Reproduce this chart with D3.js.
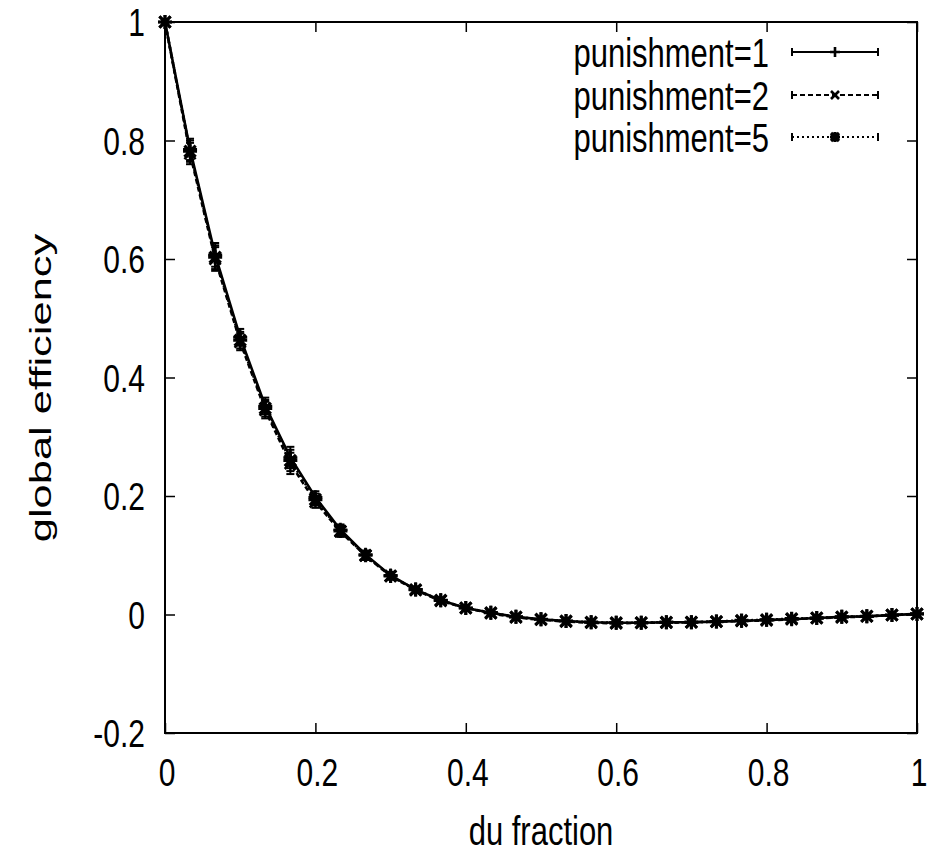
<!DOCTYPE html>
<html><head><meta charset="utf-8">
<script src="https://cdn.jsdelivr.net/npm/d3@7"></script>
<style>html,body{margin:0;padding:0;background:#fff;} text{font-family:"Liberation Sans",Arial,Helvetica,sans-serif;fill:#000;}</style>
</head><body>
<svg id="chart" width="930" height="857"></svg>
<script>
// ---- data ----
const duFraction = [0, 0.0333, 0.0667, 0.1, 0.1333, 0.1667, 0.2, 0.2333, 0.2667, 0.3, 0.3333, 0.3667, 0.4, 0.4333, 0.4667, 0.5, 0.5333, 0.5667, 0.6, 0.6333, 0.6667, 0.7, 0.7333, 0.7667, 0.8, 0.8333, 0.8667, 0.9, 0.9333, 0.9667, 1];
const pun1 = [1.0, 0.785, 0.607, 0.468, 0.352, 0.265, 0.198, 0.143, 0.101, 0.066, 0.042, 0.024, 0.011, 0.003, -0.004, -0.008, -0.011, -0.013, -0.014, -0.014, -0.013, -0.013, -0.012, -0.011, -0.009, -0.008, -0.006, -0.004, -0.003, -0.001, 0.001];
const pun2 = [1.0, 0.778, 0.600, 0.460, 0.345, 0.255, 0.190, 0.140, 0.099, 0.065, 0.041, 0.023, 0.011, 0.002, -0.005, -0.009, -0.012, -0.014, -0.015, -0.014, -0.014, -0.013, -0.012, -0.011, -0.010, -0.008, -0.006, -0.005, -0.003, -0.001, 0.001];
const pun5 = [1.0, 0.782, 0.603, 0.463, 0.348, 0.260, 0.194, 0.141, 0.100, 0.065, 0.042, 0.024, 0.011, 0.003, -0.004, -0.008, -0.011, -0.013, -0.014, -0.014, -0.013, -0.013, -0.012, -0.010, -0.009, -0.007, -0.006, -0.004, -0.003, -0.001, 0.001];
const errBar = [0, 0.018, 0.02, 0.014, 0.014, 0.018, 0.01, 0.009, 0.007, 0.006, 0.005, 0.004, 0.004, 0.003, 0.003, 0.003, 0.003, 0.003, 0.003, 0.003, 0.003, 0.003, 0.003, 0.003, 0.003, 0.003, 0.003, 0.003, 0.003, 0.003, 0.003];
const seriesNames = ["punishment=1", "punishment=2", "punishment=5"];
const xTicks = [0, 0.2, 0.4, 0.6, 0.8, 1];
const yTicks = [-0.2, 0, 0.2, 0.4, 0.6, 0.8, 1];
const xTickLabels = ["0", "0.2", "0.4", "0.6", "0.8", "1"];
const yTickLabels = ["-0.2", "0", "0.2", "0.4", "0.6", "0.8", "1"];

const series = [
  {name: seriesNames[0], values: pun1, dash: null, marker: "plus"},
  {name: seriesNames[1], values: pun2, dash: "5,3", marker: "cross"},
  {name: seriesNames[2], values: pun5, dash: "2,3", marker: "star"}
];

const L = 165, R = 917, T = 22, B = 733;
const svg = d3.select("#chart");
const x = d3.scaleLinear().domain([0, 1]).range([L, R]);
const y = d3.scaleLinear().domain([-0.2, 1]).range([B, T]);
const SY = 1.3; // vertical stretch of text

function stext(g, tx, ty, str, anchor, fs) {
  g.append("g").attr("transform", `translate(${tx},${ty}) scale(1,${SY})`)
    .append("text").attr("text-anchor", anchor).attr("font-size", fs).text(str);
}

// frame
svg.append("rect").attr("x", L).attr("y", T).attr("width", R - L).attr("height", B - T)
  .attr("fill", "none").attr("stroke", "#000").attr("stroke-width", 2);

// ticks (inward, mirrored)
const tk = 10;
const axB = d3.axisBottom(x).tickValues(xTicks).tickSize(-tk).tickFormat("");
const axT = d3.axisTop(x).tickValues(xTicks).tickSize(-tk).tickFormat("");
const axL = d3.axisLeft(y).tickValues(yTicks).tickSize(-tk).tickFormat("");
const axR = d3.axisRight(y).tickValues(yTicks).tickSize(-tk).tickFormat("");
[[axB, `translate(0,${B})`], [axT, `translate(0,${T})`], [axL, `translate(${L},0)`], [axR, `translate(${R},0)`]].forEach(([ax, tr]) => {
  const g = svg.append("g").attr("transform", tr).call(ax);
  g.select(".domain").remove();
  g.selectAll("line").attr("stroke", "#000").attr("stroke-width", 1.5);
});

// tick labels
yTicks.forEach((v, i) => stext(svg, 145, y(v) + 14, yTickLabels[i], "end", 30));
xTicks.forEach((v, i) => stext(svg, x(v) + 2, 786, xTickLabels[i], "middle", 30));

// axis titles
stext(svg, 541, 845, "du fraction", "middle", 31);
svg.append("g").attr("transform", `translate(51,388) rotate(-90) scale(1.5,1)`)
  .append("text").attr("text-anchor", "middle").attr("font-size", 29).text("global efficiency");

// markers
function marker(g, type, cx, cy, s) {
  const p = d3.path();
  if (type === "plus" || type === "star") {
    p.moveTo(cx - s, cy); p.lineTo(cx + s, cy);
    p.moveTo(cx, cy - s); p.lineTo(cx, cy + s);
  }
  if (type === "cross" || type === "star") {
    const d = s * 0.8;
    p.moveTo(cx - d, cy - d); p.lineTo(cx + d, cy + d);
    p.moveTo(cx - d, cy + d); p.lineTo(cx + d, cy - d);
  }
  g.append("path").attr("d", p.toString()).attr("stroke", "#000")
    .attr("stroke-width", type === "star" ? 3.2 : 2.6).attr("fill", "none");
}

const line = d3.line().x((d, i) => x(duFraction[i])).y(d => y(d));
const plot = svg.append("g");
series.forEach(s => {
  plot.append("path").datum(s.values).attr("d", line)
    .attr("fill", "none").attr("stroke", "#000").attr("stroke-width", 2.6)
    .attr("stroke-dasharray", s.dash);
  s.values.forEach((v, i) => {
    const cx = x(duFraction[i]);
    const e = errBar[i];
    if (e > 0) {
      plot.append("line").attr("x1", cx).attr("x2", cx).attr("y1", y(v - e)).attr("y2", y(v + e))
        .attr("stroke", "#000").attr("stroke-width", 2);
      [v - e, v + e].forEach(w => plot.append("line").attr("x1", cx - 4).attr("x2", cx + 4)
        .attr("y1", y(w)).attr("y2", y(w)).attr("stroke", "#000").attr("stroke-width", 2));
    }
    marker(plot, s.marker, cx, y(v), 7);
  });
});

// legend
const legRows = [52, 95, 137];
series.forEach((s, i) => {
  const ly = legRows[i];
  stext(svg, 769, ly + 15, s.name, "end", 31);
  svg.append("line").attr("x1", 792).attr("x2", 878).attr("y1", ly).attr("y2", ly)
    .attr("stroke", "#000").attr("stroke-width", 2.2).attr("stroke-dasharray", s.dash);
  [792, 878].forEach(ex => svg.append("line").attr("x1", ex).attr("x2", ex).attr("y1", ly - 4).attr("y2", ly + 4)
    .attr("stroke", "#000").attr("stroke-width", 2));
  marker(svg, s.marker, 835, ly, 5);
});
</script>
</body></html>
